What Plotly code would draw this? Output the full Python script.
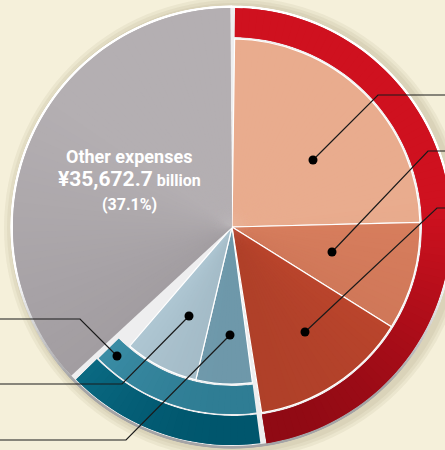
import math
import plotly.graph_objects as go

# shares of total (%), clockwise from 12 o'clock
other_label = ["Other expenses", "¥35,672.7", "billion", "(37.1%)"]
other_share = 37.1
red_items = ["item A", "item B", "item C"]
red_shares = [24.6, 9.3, 13.8]
blue_items = ["item D", "item E", "item F"]
blue_shares = [6.0, 7.6, 1.6]   # two inner wedges + leftover shown on middle ring

BG = "#F5F0DA"
W, H = 470, 450
CX, CY, R = 232, 227, 222

# (top colour, bottom colour) pairs, shaded by height
red_cols = [("#E9AC8E", "#E3A487"), ("#D97F5E", "#CA7355"), ("#CB4C31", "#AF4029")]
blue_cols = [("#7DACBF", "#6E98AA"), ("#B6CFDB", "#A3BAC6")]
RED_RING = ("#CF111F", "#900A14")
BLUE_RING = ("#0E7089", "#00566D")
MID_RING = ("#3E92AB", "#2F7D94")
GRAY = ("#B4AFB2", "#A29DA1")
RIM = ("#FFFFFF", "#A4A4A6")
GAP = "#EEEEEF"

deg = lambda p: p * 3.6
pad = 0.8

fig = go.Figure()

def hex2rgb(h):
    return [int(h[i:i + 2], 16) for i in (1, 3, 5)]

def shade(cols, th, lo=0.0, hi=1.0):
    t = (1 - math.cos(math.radians(th))) / 2
    f = min(max((t - lo) / (hi - lo), 0), 1)
    a, b = hex2rgb(cols[0]), hex2rgb(cols[1])
    return "rgb(%d,%d,%d)" % tuple(round(a[i] + (b[i] - a[i]) * f) for i in range(3))

def wedge(t0, t1, r0, r1, cols, lo=0.0, hi=1.0, step=2.0):
    # angular strips, each overlapping the next so no seams show
    n = max(1, int(math.ceil((t1 - t0) / step)))
    w = (t1 - t0) / n
    th, wd, col = [], [], []
    for k in range(n):
        a = t0 + k * w
        b = min(t1, a + 2 * w)
        th.append((a + b) / 2)
        wd.append(b - a)
        col.append(shade(cols, a + w / 2, lo, hi))
    fig.add_trace(go.Barpolar(
        theta=th, width=wd, base=[r0] * n, r=[r1 - r0] * n,
        marker=dict(color=col, line=dict(width=0)),
        hoverinfo="skip", showlegend=False))

def outline(t0, t1, r0, r1, lw=1.2):
    fig.add_trace(go.Barpolar(
        theta=[(t0 + t1) / 2], width=[t1 - t0], base=[r0], r=[r1 - r0],
        marker=dict(color="rgba(0,0,0,0)", line=dict(color="white", width=lw)),
        hoverinfo="skip", showlegend=False))

# rim and light gap disc
wedge(0, 360, 0, 221.5, RIM, 0.6, 0.85)
wedge(0, 360, 0, 219, (GAP, GAP), step=360)

# red group
red_total = sum(red_shares)
wedge(pad, deg(red_total) - pad, 190, 219, RED_RING, 0.45, 0.98)
t = pad
for i, s in enumerate(red_shares):
    t_end = deg(sum(red_shares[:i + 1])) - (pad if i == len(red_shares) - 1 else 0)
    wedge(t, t_end, 0, 188, red_cols[i], 0.4, 1.0)
    outline(t, t_end, 0, 188)
    t = t_end

# blue group
b0 = deg(red_total)
blue_total = sum(blue_shares)
wedge(b0 + pad, b0 + deg(blue_total) - pad, 189, 218, BLUE_RING, 0.8, 1.0)
wedge(b0 + pad, b0 + deg(blue_total) - pad * 1.3, 159, 187, MID_RING, 0.8, 1.0)
t = b0 + pad
for i, s in enumerate(blue_shares[:2]):
    t_end = b0 + deg(sum(blue_shares[:i + 1]))
    wedge(t, t_end, 0, 157, blue_cols[i], 0.8, 1.0)
    outline(t, t_end, 0, 157)
    t = t_end

# other expenses
g0 = b0 + deg(blue_total)
wedge(g0 + pad, 360 - pad * 0.6, 0, 219, GRAY, 0.2, 0.85)

# soft shadow behind the pie
shapes = []
for rr in [231, 228, 225]:
    shapes.append(dict(type="circle", xref="x", yref="y", layer="below",
                       x0=3 - rr, x1=3 + rr, y0=-1 - rr, y1=-1 + rr,
                       line=dict(width=0), fillcolor="rgba(110,100,60,0.07)"))

# leader lines: pixel offsets from centre (dot, elbow, edge)
leaders = [
    [(81, 67), (146, 132), (238, 132)],
    [(100, -25), (196, 76), (238, 76)],
    [(73, -105), (205, 19), (238, 19)],
    [(-115, -129), (-152, -92), (-240, -92)],
    [(-43, -89), (-110, -157), (-240, -157)],
    [(-2, -108), (-106, -213), (-240, -213)],
]
for pts in leaders:
    path = "M " + " L ".join(f"{x},{y}" for x, y in pts)
    shapes.append(dict(type="path", xref="x", yref="y", layer="above", path=path,
                       line=dict(color="#1a1a1a", width=1.2)))
    x, y = pts[0]
    shapes.append(dict(type="circle", xref="x", yref="y", layer="above",
                       x0=x - 4.5, x1=x + 4.5, y0=y - 4.5, y1=y + 4.5,
                       fillcolor="black", line=dict(width=0)))

FONT = "Noto Sans Condensed, Liberation Sans Narrow, Roboto, sans-serif"
label_lines = [
    (f"<b>{other_label[0]}</b>", 18, 156),
    (f"<b><span style='font-size:21px'>{other_label[1]}</span> {other_label[2]}</b>", 16, 179),
    (f"<b>{other_label[3]}</b>", 16, 205),
]
for txt, size, ypx in label_lines:
    fig.add_annotation(
        x=129 / W, y=1 - ypx / H, xref="paper", yref="paper", showarrow=False,
        xanchor="center", yanchor="middle", text=txt, borderpad=0,
        font=dict(family=FONT, size=size, color="white"))

fig.update_layout(
    width=W, height=H, margin=dict(l=0, r=0, t=0, b=0),
    paper_bgcolor=BG, plot_bgcolor="rgba(0,0,0,0)",
    xaxis=dict(range=[-CX, W - CX], visible=False, fixedrange=True),
    yaxis=dict(range=[CY - H, CY], visible=False, fixedrange=True),
    shapes=shapes,
    polar=dict(
        domain=dict(x=[(CX - R) / W, (CX + R) / W], y=[(H - CY - R) / H, (H - CY + R) / H]),
        bgcolor="rgba(0,0,0,0)", barmode="overlay",
        radialaxis=dict(range=[0, R], visible=False),
        angularaxis=dict(rotation=90, direction="clockwise", visible=False),
    ),
)

fig.write_html("out.html", config={"displayModeBar": False},
               post_script="document.body.style.margin='0';document.body.style.overflow='hidden';")
